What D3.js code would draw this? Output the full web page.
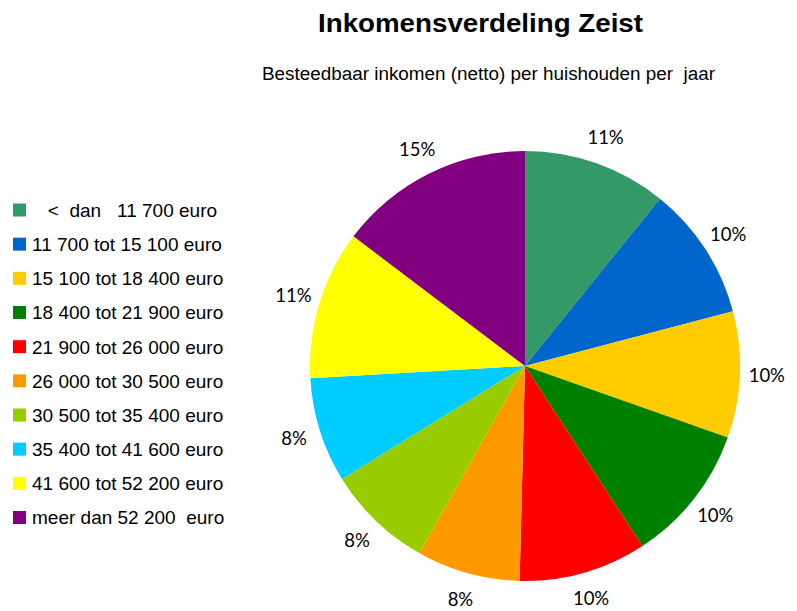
<!DOCTYPE html>
<html>
<head>
<meta charset="utf-8">
<script src="https://cdn.jsdelivr.net/npm/d3@7"></script>
<style>
  body { margin: 0; background: #fff; }
  svg text { white-space: pre; }
</style>
</head>
<body>
<div id="chart"></div>
<script>
// inkomensklassen (netto per huishouden per jaar)
const categories = [
    "   <  dan   11 700 euro",
    "11 700 tot 15 100 euro",
    "15 100 tot 18 400 euro",
    "18 400 tot 21 900 euro",
    "21 900 tot 26 000 euro",
    "26 000 tot 30 500 euro",
    "30 500 tot 35 400 euro",
    "35 400 tot 41 600 euro",
    "41 600 tot 52 200 euro",
    "meer dan 52 200  euro"
];
const shares = [10.8, 10.1, 9.5, 10.4, 9.6, 7.8, 8.0, 7.9, 11.2, 14.7];
const colors = ["#339966", "#0066cc", "#ffcc00", "#008000", "#ff0000",
                "#ff9900", "#99cc00", "#00ccff", "#ffff00", "#800080"];

const width = 797, height = 611;
const cx = 525, cy = 366, radius = 215;

const svg = d3.select("#chart").append("svg")
    .attr("width", width)
    .attr("height", height);

// titel
svg.append("text")
    .attr("x", 318).attr("y", 32)
    .attr("textLength", 325)
    .attr("lengthAdjust", "spacingAndGlyphs")
    .style("font-family", "Liberation Sans, Arial, sans-serif")
    .style("font-weight", "bold")
    .style("font-size", "25.5px")
    .text("Inkomensverdeling Zeist");

svg.append("text")
    .attr("x", 262).attr("y", 80)
    .attr("textLength", 453)
    .attr("lengthAdjust", "spacingAndGlyphs")
    .style("font-family", "Liberation Sans, Arial, sans-serif")
    .style("font-size", "18px")
    .text("Besteedbaar inkomen (netto) per huishouden per  jaar");

// taart
const pie = d3.pie().sort(null).value(d => d);
const arcs = pie(shares);
const arc = d3.arc().innerRadius(0).outerRadius(radius);
const labelArc = d3.arc().innerRadius(242).outerRadius(242);

const g = svg.append("g").attr("transform", `translate(${cx},${cy})`);

g.selectAll("path")
    .data(arcs)
    .join("path")
    .attr("d", arc)
    .attr("fill", (d, i) => colors[i]);

g.selectAll("text")
    .data(arcs)
    .join("text")
    .attr("transform", d => `translate(${labelArc.centroid(d)})`)
    .attr("text-anchor", "middle")
    .attr("dy", "0.35em")
    .style("font-family", "Lato, sans-serif")
    .style("font-size", "18.5px")
    .style("fill", "#000")
    .text(d => Math.round(d.value) + "%");

// legenda
const legend = svg.append("g");
const rowY = d3.scalePoint().domain(d3.range(categories.length)).range([210, 517.5]);

legend.selectAll("rect")
    .data(categories)
    .join("rect")
    .attr("x", 13)
    .attr("y", (d, i) => rowY(i) - 6.5)
    .attr("width", 13)
    .attr("height", 13)
    .attr("fill", (d, i) => colors[i]);

legend.selectAll("text")
    .data(categories)
    .join("text")
    .attr("x", 32)
    .attr("y", (d, i) => rowY(i))
    .attr("dy", "0.36em")
    .style("font-family", "Liberation Sans, Arial, sans-serif")
    .style("font-size", "19px")
    .text(d => d);
</script>
</body>
</html>
